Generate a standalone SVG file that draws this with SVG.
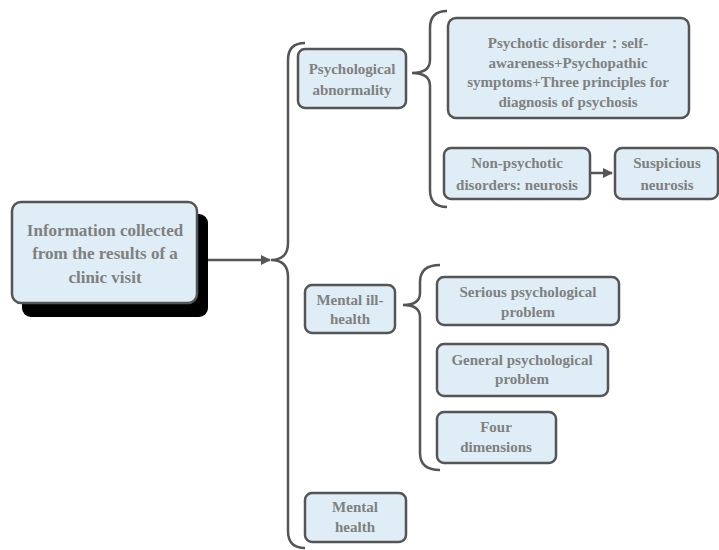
<svg xmlns="http://www.w3.org/2000/svg" width="719" height="550" viewBox="0 0 719 550">
<defs>
<style>
.box{fill:#dfeef6;stroke:#555;stroke-width:2.5}
.shadow{fill:#000}
.t{font-family:"Liberation Serif","Times New Roman",serif;font-weight:bold;fill:#808080;text-anchor:middle;font-size:15px}
.tl{font-size:17px}
.ln{fill:none;stroke:#555;stroke-width:2.5}
</style>
<marker id="ah" markerWidth="10" markerHeight="10" refX="9" refY="5" orient="auto" markerUnits="userSpaceOnUse">
<path d="M0,0 L10,5 L0,10 Z" fill="#555"/>
</marker>
</defs>
<g id="connectors">
<path class="ln" d="M197,260 L270,260" marker-end="url(#ah)"/>
<path class="ln" d="M305,43 Q288,43 288,60 L288,243 Q288,260 271,260 Q288,260 288,277 L288,531 Q288,548 305,548"/>
<path class="ln" d="M447,11 Q430,11 430,28 L430,60 Q430,73 412,73 Q430,73 430,86 L430,190 Q430,207 447,207"/>
<path class="ln" d="M440,265 Q420,265 420,282 L420,293 Q420,305 403,305 Q420,305 420,317 L420,453 Q420,470 440,470"/>
<path class="ln" d="M590,173 L612,173" marker-end="url(#ah)"/>
</g>
<g id="root">
<rect class="shadow" x="22" y="214" width="186" height="103" rx="9"/>
<rect class="box" x="12" y="202" width="185" height="101" rx="9"/>
<text class="t tl" x="105" y="236">Information collected</text>
<text class="t tl" x="105" y="259">from the results of a</text>
<text class="t tl" x="105" y="283">clinic visit</text>
</g>
<g id="psych-abn">
<rect class="box" x="298" y="49" width="108" height="59" rx="7"/>
<text class="t" x="352" y="74">Psychological</text>
<text class="t" x="352" y="95">abnormality</text>
</g>
<g id="psychotic">
<rect class="box" x="448" y="18" width="241" height="100" rx="8"/>
<text class="t" x="568" y="48">Psychotic disorder：self-</text>
<text class="t" x="568" y="68">awareness+Psychopathic</text>
<text class="t" x="568" y="87">symptoms+Three principles for</text>
<text class="t" x="568" y="107">diagnosis of psychosis</text>
</g>
<g id="non-psychotic">
<rect class="box" x="444" y="148" width="146" height="51" rx="7"/>
<text class="t" x="517" y="168">Non-psychotic</text>
<text class="t" x="517" y="190">disorders: neurosis</text>
</g>
<g id="suspicious">
<rect class="box" x="615" y="148" width="103" height="51" rx="7"/>
<text class="t" x="667" y="168">Suspicious</text>
<text class="t" x="667" y="190">neurosis</text>
</g>
<g id="mental-ill">
<rect class="box" x="305" y="285" width="90" height="48" rx="7"/>
<text class="t" x="350" y="305">Mental ill-</text>
<text class="t" x="350" y="324">health</text>
</g>
<g id="serious">
<rect class="box" x="437" y="277" width="182" height="48" rx="7"/>
<text class="t" x="528" y="297">Serious psychological</text>
<text class="t" x="528" y="317">problem</text>
</g>
<g id="general">
<rect class="box" x="437" y="344" width="171" height="52" rx="7"/>
<text class="t" x="522" y="365">General psychological</text>
<text class="t" x="522" y="384">problem</text>
</g>
<g id="four">
<rect class="box" x="437" y="412" width="119" height="51" rx="7"/>
<text class="t" x="496" y="432">Four</text>
<text class="t" x="496" y="452">dimensions</text>
</g>
<g id="mental-health">
<rect class="box" x="305" y="493" width="101" height="49" rx="7"/>
<text class="t" x="355" y="512">Mental</text>
<text class="t" x="355" y="532">health</text>
</g>
</svg>
